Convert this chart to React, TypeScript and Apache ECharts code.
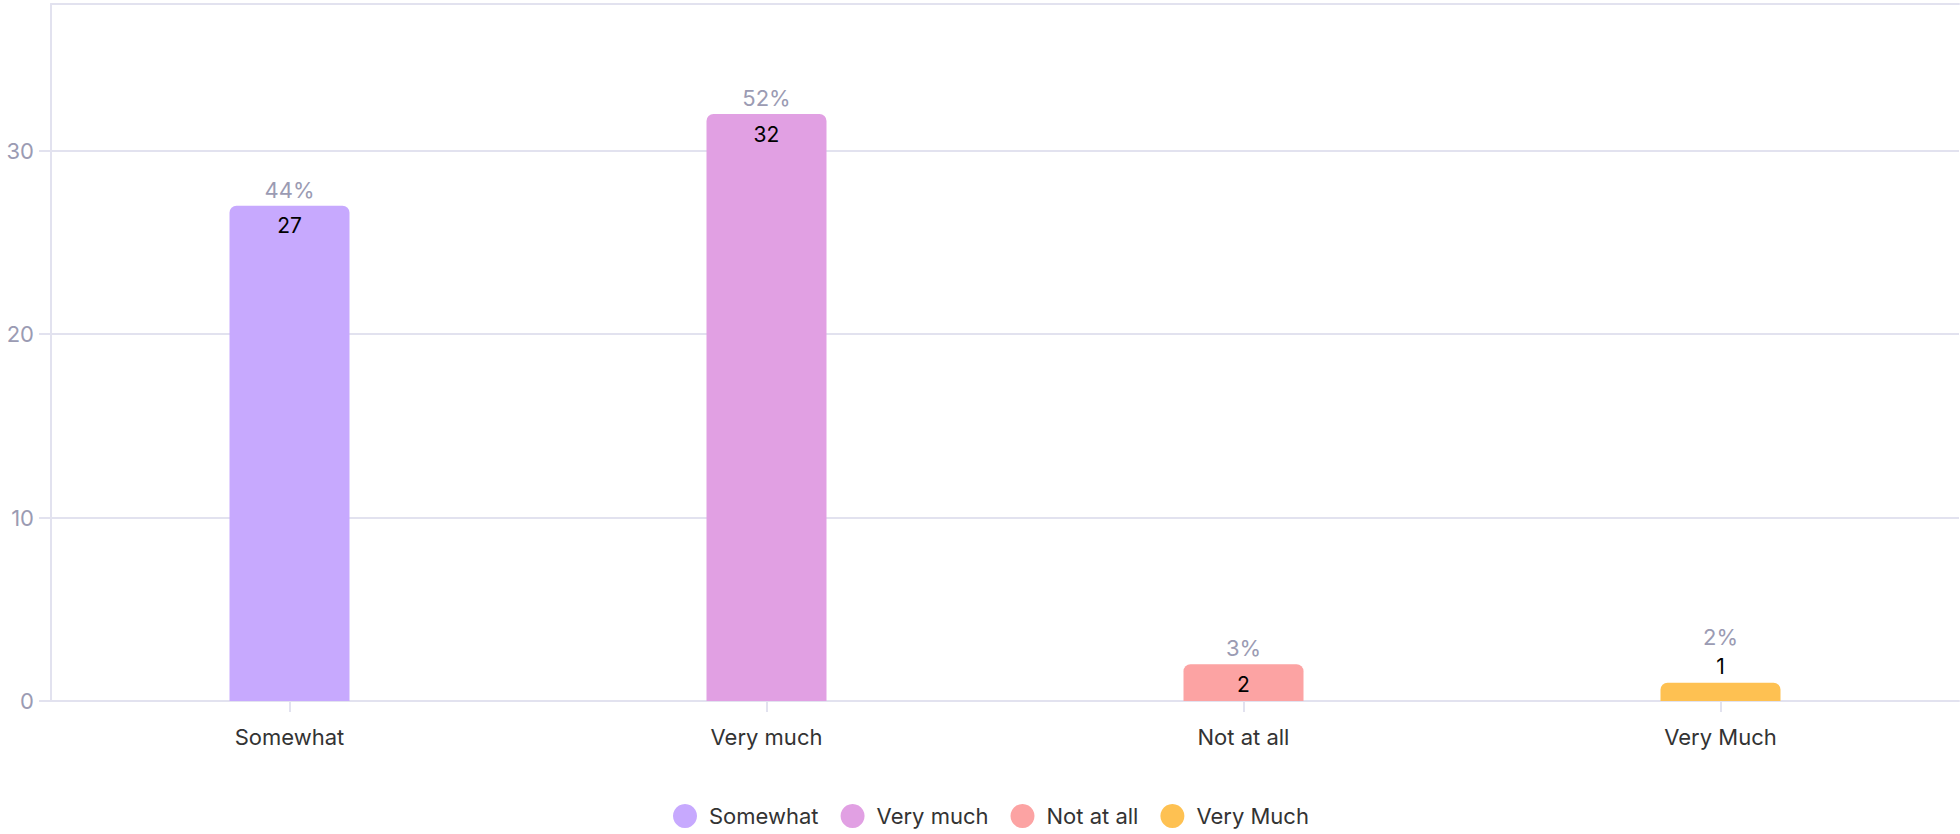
import React, { useEffect, useRef } from "react";
import * as echarts from "echarts";

const categories = ["Somewhat", "Very much", "Not at all", "Very Much"];
const values = [27, 32, 2, 1];
const colors = ["#c7a9fe", "#e1a0e3", "#fca3a3", "#fec152"];
const yTicks = [0, 10, 20, 30];
const yMax = 38;

const FONT = "Inter, 'Noto Sans', sans-serif";

export default function App() {
  const ref = useRef<HTMLDivElement>(null);
  useEffect(() => {
    if (!ref.current) return;
    const chart = echarts.init(ref.current, undefined, { renderer: "svg" });
    const total = values.reduce((a, b) => a + b, 0);
    const plotH = 834 - 4 - 133;
    const gridColor = "#e2e2ef";

    const series = categories.map((name, i) => {
      const v = values[i];
      const pct = Math.round((v / total) * 100) + "%";
      const inside = (v / yMax) * plotH > 30;
      const label = inside
        ? {
            show: true,
            position: "top",
            distance: 0,
            offset: [0, 38],
            formatter: "{p|" + pct + "}\n{v|" + v + "}",
            rich: {
              p: { fontSize: 22, lineHeight: 36, color: "#9b9bb3", fontFamily: FONT },
              v: { fontSize: 21, lineHeight: 36, color: "#000", fontFamily: FONT },
            },
          }
        : {
            show: true,
            position: "top",
            distance: 0,
            offset: [0, -2],
            formatter: "{p|" + pct + "}\n{v|" + v + "}",
            rich: {
              p: { fontSize: 22, lineHeight: 29, color: "#9b9bb3", fontFamily: FONT },
              v: { fontSize: 21, lineHeight: 29, color: "#000", fontFamily: FONT },
            },
          };
      return {
        name,
        type: "bar",
        stack: "all",
        barWidth: 120,
        itemStyle: { color: colors[i], borderRadius: [7, 7, 0, 0] },
        data: categories.map((_, j) => (j === i ? { value: v, label } : "-")),
      };
    });

    chart.setOption({
      animation: false,
      color: colors,
      textStyle: { fontFamily: FONT },
      grid: { left: 51, right: 1, top: 4, bottom: 133, containLabel: false },
      legend: {
        data: categories,
        left: 668,
        top: 799,
        icon: "circle",
        itemWidth: 24,
        itemHeight: 24,
        itemGap: 22,
        textStyle: { fontSize: 22, color: "#333", fontFamily: FONT, padding: [0, 0, 0, 7] },
      },
      xAxis: [
        {
          type: "category",
          data: categories,
          axisLine: { show: true, lineStyle: { color: gridColor, width: 2 } },
          axisTick: { show: true, alignWithLabel: true, length: 11, lineStyle: { color: gridColor, width: 2 } },
          axisLabel: { fontSize: 22, color: "#333", margin: 25, fontFamily: FONT },
        },
        {
          type: "category",
          data: categories,
          position: "top",
          axisLine: { show: true, lineStyle: { color: gridColor, width: 2 } },
          axisTick: { show: false },
          axisLabel: { show: false },
        },
      ],
      yAxis: {
        type: "value",
        min: 0,
        max: yMax,
        interval: 10,
        axisLine: { show: true, lineStyle: { color: gridColor, width: 2 } },
        axisTick: { show: true, length: 12, customValues: yTicks, lineStyle: { color: gridColor, width: 2 } },
        axisLabel: { fontSize: 22, color: "#9b9bb3", margin: 17, customValues: yTicks, fontFamily: FONT },
        splitLine: { show: true, lineStyle: { color: gridColor, width: 2 } },
      },
      series,
    });
    return () => chart.dispose();
  }, []);
  return (
    <div
      ref={ref}
      style={{ position: "absolute", left: 0, top: 0, width: 1960, height: 834, background: "#fff" }}
    />
  );
}
